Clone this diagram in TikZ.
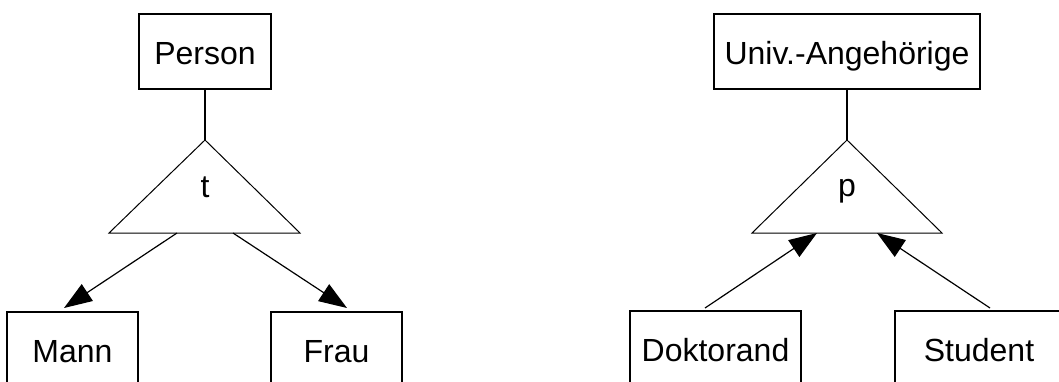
\documentclass[tikz,border=0pt]{standalone}
\usepackage{fontspec}
\setmainfont{Liberation Sans}
\usetikzlibrary{arrows.meta}
\begin{document}
\begin{tikzpicture}[x=1pt,y=-1pt,
  font=\fontsize{32}{38}\selectfont,
  entity/.style={draw,line width=2pt,rectangle,minimum height=75pt,inner sep=0pt,text height=25pt,text depth=0pt},
  isa/.style={draw,line width=1pt,line join=miter},
  link/.style={line width=2pt},
  conn/.style={line width=1.2pt,-{Triangle[length=28pt,width=20pt]}}]
\useasboundingbox (0,0) rectangle (1059,381);
\clip (0,0) rectangle (1059,381);
% left hierarchy
\node[entity,minimum width=132pt] (person) at (205,51.5) {Person};
\coordinate (tapex) at (205,140);
\coordinate (tbl) at (109,233);
\coordinate (tbr) at (300,233);
\draw[isa] (tapex) -- (tbr) -- (tbl) -- cycle;
\node[anchor=base,inner sep=0pt] (tlab) at (205,197) {t};
\draw[link] (person.south) -- (tapex);
\node[entity,minimum width=131pt] (mann) at (72.5,349.5) {Mann};
\node[entity,minimum width=131pt] (frau) at (336.5,349.5) {Frau};
\coordinate (ts1) at (177,233);
\coordinate (ts2) at (233,233);
\coordinate (mt) at (64,308);
\coordinate (ft) at (347,308);
\draw[conn] (ts1) -- (mt);
\draw[conn] (ts2) -- (ft);
% right hierarchy
\node[entity,minimum width=266pt] (univ) at (847,51.5) {Univ.-Angehörige};
\coordinate (papex) at (847,140);
\coordinate (pbl) at (752,233);
\coordinate (pbr) at (942,233);
\draw[isa] (papex) -- (pbr) -- (pbl) -- cycle;
\node[anchor=base,inner sep=0pt] (plab) at (847,196) {p};
\draw[link] (univ.south) -- (papex);
\node[entity,minimum width=171pt] (dokt) at (715.5,348.5) {Doktorand};
\node[entity,minimum width=168pt] (stud) at (979,348.5) {Student};
\coordinate (ds) at (705,308);
\coordinate (ss) at (990,308);
\coordinate (pt1) at (817,233);
\coordinate (pt2) at (877,233);
\draw[conn] (ds) -- (pt1);
\draw[conn] (ss) -- (pt2);
\end{tikzpicture}
\end{document}
